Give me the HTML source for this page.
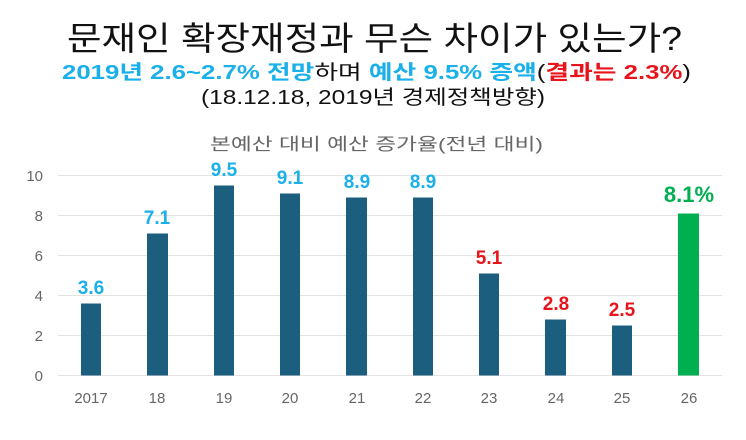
<!DOCTYPE html>
<html><head><meta charset="utf-8"><style>
body{margin:0;background:#fff;width:746px;height:435px;overflow:hidden;font-family:"Liberation Sans","Noto Sans CJK KR",sans-serif}
</style></head><body>
<svg width="746" height="435" xmlns="http://www.w3.org/2000/svg" style="font-family:'Liberation Sans','Noto Sans CJK KR',sans-serif">
<text x="67" y="50" font-size="33" fill="#111" textLength="615" lengthAdjust="spacingAndGlyphs">문재인 확장재정과 무슨 차이가 있는가?</text>
<text x="62" y="79" font-size="20" font-weight="bold" fill="#1ab0ea" textLength="629" lengthAdjust="spacingAndGlyphs">2019년 2.6~2.7% 전망<tspan fill="#111" font-weight="normal">하며 </tspan>예산 9.5% 증액<tspan fill="#111" font-weight="normal">(</tspan><tspan fill="#e8141b">결과는 2.3%</tspan><tspan fill="#111" font-weight="normal">)</tspan></text>
<text x="201" y="104" font-size="20" fill="#111" textLength="344" lengthAdjust="spacingAndGlyphs">(18.12.18, 2019년 경제정책방향)</text>
<text x="210" y="150" font-size="17" fill="#666" textLength="333" lengthAdjust="spacingAndGlyphs">본예산 대비 예산 증가율(전년 대비)</text>
<g stroke="#e3e3e3" stroke-width="1">
<line x1="58" x2="722" y1="175.5" y2="175.5"/><line x1="58" x2="722" y1="215.5" y2="215.5"/><line x1="58" x2="722" y1="255.5" y2="255.5"/><line x1="58" x2="722" y1="295.5" y2="295.5"/><line x1="58" x2="722" y1="335.5" y2="335.5"/><line x1="58" x2="722" y1="375.5" y2="375.5"/>
</g>
<g font-size="15" fill="#666" text-anchor="end">
<text x="43" y="181">10</text><text x="43" y="221">8</text><text x="43" y="261">6</text><text x="43" y="301">4</text><text x="43" y="341">2</text><text x="43" y="381">0</text>
</g>
<g fill="#1b5e7e">
<rect x="81" y="303.5" width="20" height="72"/>
<rect x="147" y="233.5" width="21" height="142"/>
<rect x="214" y="185.5" width="20" height="190"/>
<rect x="280" y="193.5" width="20" height="182"/>
<rect x="346" y="197.5" width="21" height="178"/>
<rect x="413" y="197.5" width="20" height="178"/>
<rect x="479" y="273.5" width="20" height="102"/>
<rect x="545" y="319.5" width="21" height="56"/>
<rect x="612" y="325.5" width="20" height="50"/>
</g>
<rect x="678" y="213.5" width="21" height="162" fill="#00b050"/>
<g font-size="19" font-weight="bold" text-anchor="middle">
<text x="91" y="294" fill="#1ab0ea">3.6</text>
<text x="157" y="224" fill="#1ab0ea">7.1</text>
<text x="224" y="176" fill="#1ab0ea">9.5</text>
<text x="290" y="184" fill="#1ab0ea">9.1</text>
<text x="357" y="188" fill="#1ab0ea">8.9</text>
<text x="423" y="188" fill="#1ab0ea">8.9</text>
<text x="489" y="264" fill="#e8141b">5.1</text>
<text x="556" y="310" fill="#e8141b">2.8</text>
<text x="622" y="316" fill="#e8141b">2.5</text>
<text x="689" y="202" fill="#00b050" font-size="22">8.1%</text>
</g>
<g font-size="15" fill="#666" text-anchor="middle">
<text x="91" y="403">2017</text><text x="157" y="403">18</text><text x="224" y="403">19</text><text x="290" y="403">20</text><text x="357" y="403">21</text><text x="423" y="403">22</text><text x="489" y="403">23</text><text x="556" y="403">24</text><text x="622" y="403">25</text><text x="689" y="403">26</text>
</g>
</svg>
</body></html>
